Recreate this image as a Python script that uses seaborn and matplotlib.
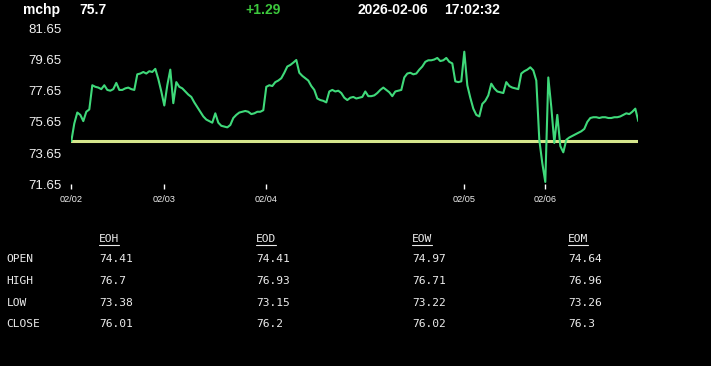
import matplotlib
matplotlib.use("Agg")
import matplotlib.pyplot as plt
import seaborn as sns
import pandas as pd
from matplotlib.lines import Line2D

# ---------------- data ----------------
symbol = "mchp"
last_price = "75.7"
change = "+1.29"
date_str = "2026-02-06"
time_str = "17:02:32"

open_price = 74.41

prices = [
    74.41, 75.55, 76.25, 76.1, 75.7, 76.3, 76.45, 78.0, 77.9, 77.85,
    77.75, 78.0, 77.7, 77.65, 77.75, 78.15, 77.7, 77.7, 77.8, 77.85,
    77.75, 77.7, 78.7, 78.75, 78.85, 78.75, 78.9, 78.85, 79.05, 78.4,
    77.6, 76.7, 78.0, 79.0, 76.85, 78.2, 77.9, 77.8, 77.6, 77.4,
    77.25, 76.9, 76.6, 76.3, 76.0, 75.8, 75.7, 75.6, 76.2, 75.6,
    75.4, 75.35, 75.3, 75.45, 75.9, 76.1, 76.25, 76.3, 76.35, 76.3,
    76.15, 76.2, 76.3, 76.3, 76.4, 77.9, 78.0, 77.95, 78.2, 78.3,
    78.45, 78.8, 79.2, 79.3, 79.45, 79.62, 78.8, 78.6, 78.45, 78.3,
    77.95, 77.7, 77.15, 77.05, 77.0, 76.9, 77.6, 77.7, 77.6, 77.65,
    77.5, 77.2, 77.05, 77.2, 77.25, 77.15, 77.2, 77.25, 77.6, 77.3,
    77.3, 77.35, 77.5, 77.7, 77.85, 77.7, 77.55, 77.3, 77.6, 77.65,
    77.7, 78.5, 78.75, 78.8, 78.7, 78.75, 79.0, 79.2, 79.5, 79.6,
    79.6, 79.65, 79.75, 79.55, 79.6, 79.75, 79.5, 79.4, 78.25, 78.2,
    78.25, 80.15, 78.0, 77.2, 76.5, 76.1, 76.0, 76.8, 77.0, 77.35,
    78.1, 77.8, 77.6, 77.55, 77.5, 78.2, 77.95, 77.85, 77.8, 77.75,
    78.75, 78.9, 79.0, 79.15, 78.95, 78.3, 74.5, 73.0, 71.8, 78.5,
    76.6, 74.3, 76.1, 74.1, 73.7, 74.5, 74.65, 74.75, 74.85, 74.95,
    75.05, 75.2, 75.65, 75.9, 75.95, 75.95, 75.9, 75.95, 75.95, 75.9,
    75.9, 75.95, 75.95, 76.0, 76.1, 76.2, 76.15, 76.3, 76.5, 75.7,
]

day_tick_index = [0, 31, 65, 131, 158]
day_tick_labels = ["02/02", "02/03", "02/04", "02/05", "02/06"]

y_ticks = [71.65, 73.65, 75.65, 77.65, 79.65, 81.65]

table_cols = ["EOH", "EOD", "EOW", "EOM"]
table_rows = ["OPEN", "HIGH", "LOW", "CLOSE"]
table_open = ["74.41", "74.41", "74.97", "74.64"]
table_high = ["76.7", "76.93", "76.71", "76.96"]
table_low = ["73.38", "73.15", "73.22", "73.26"]
table_close = ["76.01", "76.2", "76.02", "76.3"]

# ---------------- style ----------------
sns.set_style("dark", {"axes.facecolor": "black", "figure.facecolor": "black"})
plt.rcParams["font.family"] = ["Liberation Sans", "DejaVu Sans"]

W, H = 711, 366
fig = plt.figure(figsize=(W / 100, H / 100), dpi=100, facecolor="black")

def fx(px):
    return px / W

def fy(py):
    return 1 - py / H

ax_left, ax_right, ax_top, ax_bot = 71.3, 638.3, 28.3, 184.3
ax = fig.add_axes([fx(ax_left), fy(ax_bot), (ax_right - ax_left) / W, (ax_bot - ax_top) / H])
ax.set_facecolor("black")

df = pd.DataFrame({"idx": list(range(len(prices))), "price": prices})
ax.axhline(open_price, color="#d6e68c", linewidth=2.2, zorder=1)
sns.lineplot(data=df, x="idx", y="price", ax=ax, color="#3fd97a", linewidth=1.5, zorder=2)

ax.set_xlim(0, len(prices) - 1)
ax.set_ylim(y_ticks[0], y_ticks[-1])
ax.set_yticks(y_ticks)
ax.set_yticklabels([f"{v:.2f}" for v in y_ticks])
ax.set_xticks(day_tick_index)
ax.set_xticklabels(day_tick_labels)
ax.set_xlabel("")
ax.set_ylabel("")
ax.grid(False)
for s in ax.spines.values():
    s.set_visible(False)
ax.tick_params(axis="y", length=0, pad=7.2, labelsize=9.5, labelcolor="#f0f0f0")
ax.tick_params(axis="x", length=3.5, width=1, color="white", direction="out",
               pad=4.5, labelsize=6.6, labelcolor="#f0f0f0", bottom=True)

# ---------------- header ----------------
hy = fy(10)
fig.text(fx(23), hy, symbol, color="white", fontsize=10, fontweight="bold", va="center", ha="left")
fig.text(fx(79), hy, last_price, color="white", fontsize=10, fontweight="bold", va="center", ha="left")
fig.text(fx(245), hy, change, color="#3cc83c", fontsize=10, fontweight="bold", va="center", ha="left")
fig.text(fx(357), hy, date_str, color="white", fontsize=10, fontweight="bold", va="center", ha="left")
fig.text(fx(444), hy, time_str, color="white", fontsize=10, fontweight="bold", va="center", ha="left")

# ---------------- table ----------------
mono = ["DejaVu Sans Mono"]
tcolor = "#ececec"
tsize = 8.1
col_x = [99, 256, 412, 568]
header_y = 238.5
row_y = [259.5, 281, 302.5, 324]
cells = [table_open, table_high, table_low, table_close]

header_texts = []
for cx, name in zip(col_x, table_cols):
    t = fig.text(fx(cx), fy(header_y), name, color=tcolor, fontsize=tsize,
                 family=mono, va="center", ha="left")
    header_texts.append(t)

for ry, rname, vals in zip(row_y, table_rows, cells):
    fig.text(fx(6.5), fy(ry), rname, color=tcolor, fontsize=tsize, family=mono,
             va="center", ha="left")
    for cx, v in zip(col_x, vals):
        fig.text(fx(cx), fy(ry), v, color=tcolor, fontsize=tsize, family=mono,
                 va="center", ha="left")

fig.canvas.draw()
renderer = fig.canvas.get_renderer()
for t in header_texts:
    bb = t.get_window_extent(renderer)
    fig.add_artist(Line2D([bb.x0 / W, bb.x1 / W], [fy(244.5), fy(244.5)],
                          color=tcolor, linewidth=0.8, transform=fig.transFigure))

fig.savefig("out.png", dpi=100, facecolor="black")
